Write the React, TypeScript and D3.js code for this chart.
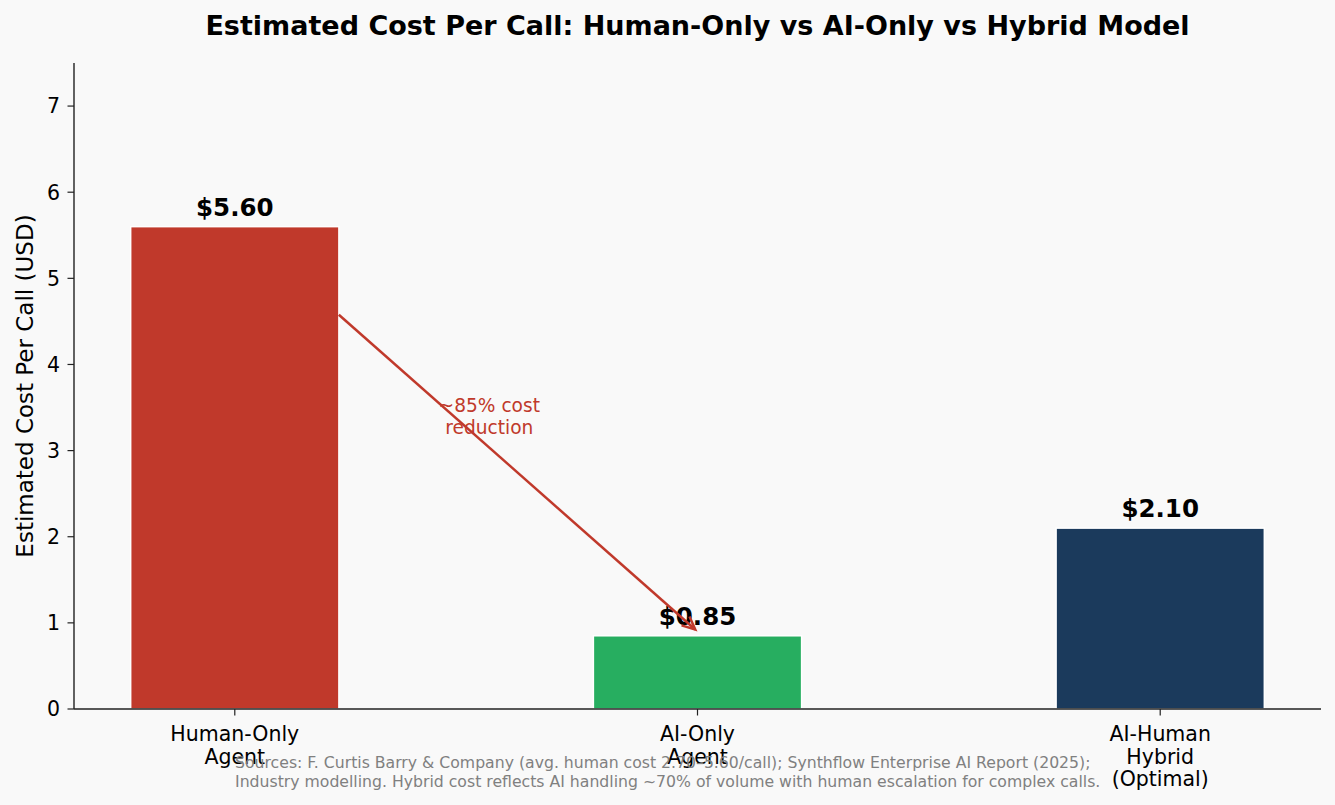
import React from "react";
import * as d3 from "d3";

// Cost per call by service model
const categories: string[][] = [
  ["Human-Only", "Agent"],
  ["AI-Only", "Agent"],
  ["AI-Human", "Hybrid", "(Optimal)"],
];
const costs: number[] = [5.6, 0.85, 2.1];
const valueLabels: string[] = ["$5.60", "$0.85", "$2.10"];
const barColors: string[] = ["#C0392B", "#27AE60", "#1B3A5C"];
const yTicks: number[] = [0, 1, 2, 3, 4, 5, 6, 7];

// Reduction arrow: from beside the first bar down to the AI-only bar
const arrowFrom: [number, number] = [0.22, 4.6];
const arrowTo: [number, number] = [1.0, 0.9];
const arrowLabel: string[] = ["~85% cost", "reduction"];
const arrowLabelAt: [number, number] = [0.55, 3.3];

const title = "Estimated Cost Per Call: Human-Only vs AI-Only vs Hybrid Model";
const yTitle = "Estimated Cost Per Call (USD)";
const footnote = [
  "Sources: F. Curtis Barry & Company (avg. human cost 2.70\u20135.60/call); Synthflow Enterprise AI Report (2025);",
  "Industry modelling. Hybrid cost reflects AI handling ~70% of volume with human escalation for complex calls.",
];

const W = 1335;
const H = 805;
const FONT = "DejaVu Sans, Verdana, sans-serif";
const BAR_WIDTH = 0.45;

export default function App() {
  const plot = { left: 74, right: 1321, top: 63, bottom: 709 };
  const n = costs.length;
  const pad = (n - 1 + BAR_WIDTH) * 0.05;
  const x = d3
    .scaleLinear()
    .domain([-BAR_WIDTH / 2 - pad, n - 1 + BAR_WIDTH / 2 + pad])
    .range([plot.left, plot.right]);
  const y = d3.scaleLinear().domain([0, 7.5]).range([plot.bottom, plot.top]);

  const red = "#C0392B";
  const axisColor = "#222";

  // arrow geometry with a small shrink at both ends
  const x0 = x(arrowFrom[0]);
  const y0 = y(arrowFrom[1]);
  const x1 = x(arrowTo[0]);
  const y1 = y(arrowTo[1]);
  const len = Math.hypot(x1 - x0, y1 - y0);
  const ux = (x1 - x0) / len;
  const uy = (y1 - y0) / len;
  const shrink = 3;
  const sx = x0 + ux * shrink;
  const sy = y0 + uy * shrink;
  const ex = x1 - ux * shrink;
  const ey = y1 - uy * shrink;
  const headLen = 13;
  const headHalf = 6;
  const px = -uy;
  const py = ux;
  const h1 = [ex - ux * headLen + px * headHalf, ey - uy * headLen + py * headHalf];
  const h2 = [ex - ux * headLen - px * headHalf, ey - uy * headLen - py * headHalf];

  return (
    <svg
      width={W}
      height={H}
      style={{ position: "absolute", left: 0, top: 0, background: "#F9F9F9" }}
      fontFamily={FONT}
    >
      <rect x={0} y={0} width={W} height={H} fill="#F9F9F9" />

      <text
        x={(plot.left + plot.right) / 2}
        y={35}
        textAnchor="middle"
        fontSize={27}
        fontWeight="bold"
        fill="#000"
      >
        {title}
      </text>

      {/* bars */}
      {costs.map((v, i) => (
        <rect
          key={i}
          x={x(i - BAR_WIDTH / 2)}
          y={y(v)}
          width={x(i + BAR_WIDTH / 2) - x(i - BAR_WIDTH / 2)}
          height={y(0) - y(v)}
          fill={barColors[i]}
          stroke="#fff"
          strokeWidth={1.5}
        />
      ))}

      {/* value labels */}
      {costs.map((v, i) => (
        <text
          key={i}
          x={x(i)}
          y={y(v + 0.1) - 2.5}
          textAnchor="middle"
          fontSize={24.5}
          fontWeight="bold"
          fill="#000"
        >
          {valueLabels[i]}
        </text>
      ))}

      {/* y axis */}
      <line x1={plot.left} x2={plot.left} y1={plot.top} y2={plot.bottom} stroke={axisColor} strokeWidth={1.4} />
      {yTicks.map((t) => (
        <g key={t}>
          <line x1={plot.left - 6.5} x2={plot.left} y1={y(t)} y2={y(t)} stroke={axisColor} strokeWidth={1.2} />
          <text
            x={plot.left - 14}
            y={y(t)}
            dy="0.36em"
            textAnchor="end"
            fontSize={20.5}
            fill="#000"
          >
            {t}
          </text>
        </g>
      ))}
      <text
        transform={`translate(25,${(plot.top + plot.bottom) / 2}) rotate(-90)`}
        textAnchor="middle"
        dy="0.35em"
        fontSize={23}
        fill="#000"
      >
        {yTitle}
      </text>

      {/* x axis */}
      <line x1={plot.left} x2={plot.right} y1={plot.bottom} y2={plot.bottom} stroke={axisColor} strokeWidth={1.4} />
      {categories.map((lines, i) => (
        <g key={i}>
          <line x1={x(i)} x2={x(i)} y1={plot.bottom} y2={plot.bottom + 6.5} stroke={axisColor} strokeWidth={1.2} />
          {lines.map((s, j) => (
            <text
              key={j}
              x={x(i)}
              y={plot.bottom + 32 + j * 22.5}
              textAnchor="middle"
              fontSize={20.5}
              fill="#000"
            >
              {s}
            </text>
          ))}
        </g>
      ))}

      {/* reduction arrow */}
      <line x1={sx} y1={sy} x2={ex} y2={ey} stroke={red} strokeWidth={2.5} />
      <polyline
        points={`${h1[0]},${h1[1]} ${ex},${ey} ${h2[0]},${h2[1]}`}
        fill="none"
        stroke={red}
        strokeWidth={2.5}
      />
      {arrowLabel.map((s, j) => (
        <text
          key={j}
          x={x(arrowLabelAt[0])}
          y={y(arrowLabelAt[1]) - 12.5 + j * 22}
          textAnchor="middle"
          fontSize={18.6}
          fill={red}
        >
          {s}
        </text>
      ))}

      {/* footnote */}
      {footnote.map((s, j) => (
        <text key={j} x={235} y={767.5 + j * 19} fontSize={15.7} fill="#808080">
          {s}
        </text>
      ))}
    </svg>
  );
}
